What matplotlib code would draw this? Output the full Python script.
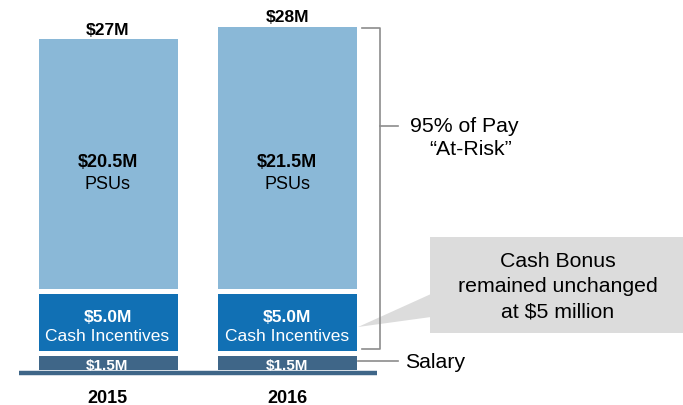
import matplotlib
matplotlib.use("Agg")
import matplotlib.pyplot as plt
from matplotlib.patches import Polygon, Rectangle

plt.rcParams['font.family'] = ['Liberation Sans', 'DejaVu Sans']

years = ["2015", "2016"]
salary = [1.5, 1.5]
cash = [5.0, 5.0]
psus = [20.5, 21.5]
totals = [27, 28]
salary_labels = ["$1.5M", "$1.5M"]
cash_labels = ["$5.0M", "$5.0M"]
psu_labels = ["$20.5M", "$21.5M"]
total_labels = ["$27M", "$28M"]

W, H = 683, 406
fig = plt.figure(figsize=(W / 100, H / 100), dpi=100)
ax = fig.add_axes([0, 0, 1, 1])
scale = 12.43
zero_px = 373
ax.set_xlim(0, W)
ax.set_ylim(-(H - zero_px) / scale, zero_px / scale)
ax.axis('off')

c_psu = '#8AB8D7'
c_cash = '#1170B4'
c_sal = '#3F6688'
centers = [107.5, 287]
bw = 144
lw = 3.6

ax.bar(centers, salary, width=bw, color=c_sal, edgecolor='white', linewidth=lw, zorder=2)
ax.bar(centers, cash, bottom=salary, width=bw, color=c_cash, edgecolor='white', linewidth=lw, zorder=2)
bot2 = [s + c for s, c in zip(salary, cash)]
ax.bar(centers, psus, bottom=bot2, width=bw, color=c_psu, edgecolor='white', linewidth=lw, zorder=2)

# baseline
ax.hlines(-0.5 / scale, 19, 377, color=c_sal, linewidth=3.2, zorder=3)

for i, x in enumerate(centers):
    ax.text(x, totals[i] + 7 / scale, total_labels[i], ha='center', va='center',
            fontsize=12.5, fontweight='bold', color='black')
    ax.text(x, bot2[i] + 130 / scale, psu_labels[i], ha='center', va='center',
            fontsize=13, fontweight='bold', color='black')
    ax.text(x, bot2[i] + 108 / scale, "PSUs", ha='center', va='center',
            fontsize=13, color='black')
    ax.text(x, salary[i] + 37 / scale, cash_labels[i], ha='center', va='center',
            fontsize=12.5, fontweight='bold', color='white', zorder=4)
    ax.text(x, salary[i] + 18 / scale, "Cash Incentives", ha='center', va='center',
            fontsize=12.5, color='white', zorder=4)
    ax.text(x, 2.5 / scale, salary_labels[i], ha='center', va='baseline',
            fontsize=11, fontweight='bold', color='white', zorder=4)
    ax.text(x, -26 / scale, years[i], ha='center', va='center',
            fontsize=13, fontweight='bold', color='black')

# overlay axes in pixel coordinates for annotations
ov = fig.add_axes([0, 0, 1, 1])
ov.set_xlim(0, W)
ov.set_ylim(H, 0)
ov.axis('off')
ov.patch.set_alpha(0)

gray = '#8C8C8C'
ov.plot([362, 380, 380, 362], [29, 29, 350, 350], color=gray, linewidth=1.2)
ov.plot([380, 398], [127, 127], color=gray, linewidth=1.2)
ov.text(464, 126, "95% of Pay", ha='center', va='center', fontsize=15.3, color='black')
ov.text(471, 150, "\u201cAt-Risk\u201d", ha='center', va='center', fontsize=15.3, color='black')

ov.plot([358, 398], [362, 362], color=gray, linewidth=1.2)
ov.text(405, 363, "Salary", ha='left', va='center', fontsize=15.3, color='black')

box_c = '#DCDCDC'
ov.add_patch(Rectangle((430, 238), 253, 96, facecolor=box_c, edgecolor='none'))
ov.add_patch(Polygon([(431, 295), (358, 328), (431, 318)], closed=True,
                     facecolor=box_c, edgecolor='none'))
ov.text(558, 262, "Cash Bonus", ha='center', va='center', fontsize=15.3, color='black')
ov.text(558, 287, "remained unchanged", ha='center', va='center', fontsize=15.3, color='black')
ov.text(558, 312, "at $5 million", ha='center', va='center', fontsize=15.3, color='black')

fig.savefig("out.png", dpi=100)
